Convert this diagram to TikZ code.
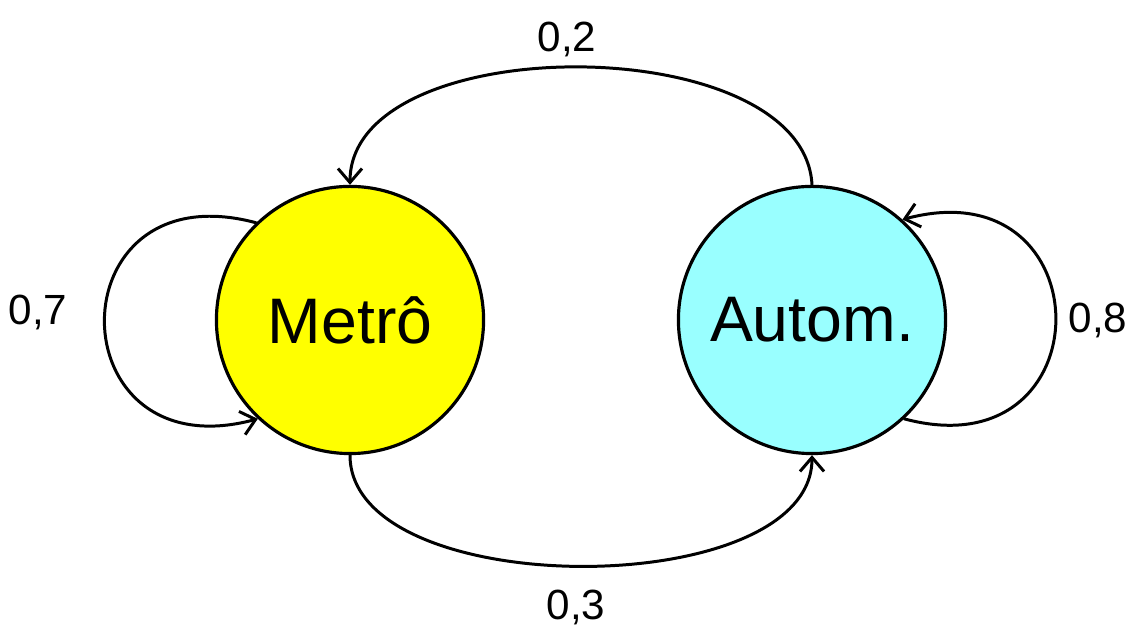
\documentclass[tikz,border=0pt]{standalone}
\usepackage{fontspec}
\setmainfont{Liberation Sans}
\usetikzlibrary{arrows.meta}
\definecolor{MetroFill}{HTML}{FFFF00}
\definecolor{AutoFill}{HTML}{99FFFF}
\tikzset{
  state/.style={circle,draw=black,line width=0.9pt,minimum size=2.67cm,inner sep=0pt,font=\fontsize{18.3}{18.3}\selectfont},
  prob/.style={anchor=base,text=black,font=\fontsize{12}{12}\selectfont},
  trans/.style={draw=black,line width=0.85pt,-{Straight Barb[length=1.4mm,width=2.4mm]}}
}
\begin{document}
\begin{tikzpicture}[x=0.01cm,y=0.01cm,line cap=round,line join=round]
  \useasboundingbox (0,0) rectangle (1142,643);

  % states
  \node[state,fill=MetroFill] (metro) at (350,323) {Metrô};
  \node[state,fill=AutoFill] (autom) at (812,323) {Autom.};

  % transitions between states
  \draw[trans] (autom.north) to[out=93,in=90,looseness=0.87] (metro.north);
  \draw[trans] (metro.south) to[out=-90,in=-90,looseness=0.82] (autom.south);

  % self loops
  \draw[trans] (metro.134) .. controls +(165:210) and +(195:210) .. (metro.227);
  \draw[trans] (autom.-47) .. controls +(-15:210) and +(15:210) .. (autom.48);

  % probabilities
  \node[prob] (p02) at (567,591) {0,2};
  \node[prob] (p03) at (576,23) {0,3};
  \node[prob] (p07) at (38,318) {0,7};
  \node[prob] (p08) at (1098,310) {0,8};
\end{tikzpicture}
\end{document}
